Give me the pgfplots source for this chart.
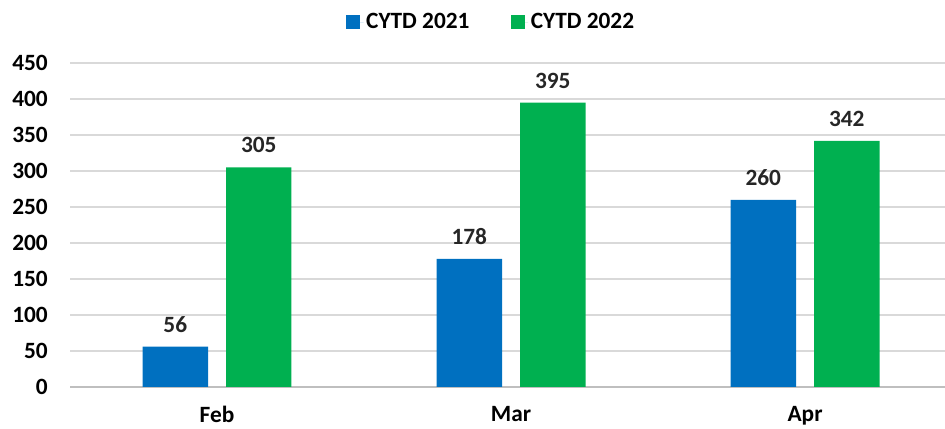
\documentclass[border=0pt]{standalone}
\usepackage{fontspec}
\setmainfont{Carlito}
\usepackage{pgfplots}
\pgfplotsset{compat=1.18}
\definecolor{cblue}{HTML}{0070C0}
\definecolor{cgreen}{HTML}{00B050}
\definecolor{cgrid}{HTML}{D9D9D9}
\definecolor{caxis}{HTML}{BFBFBF}
\begin{document}
\begin{tikzpicture}
\useasboundingbox (0,0) rectangle (708.75pt,321pt);
\begin{axis}[
  at={(52.5pt,30.75pt)}, anchor=south west,
  scale only axis, width=656.25pt, height=243pt,
  ybar=13.5pt, bar width=49.1pt,
  xmin=-0.5, xmax=2.476, ymin=0, ymax=450,
  xtick=data, xticklabels={Feb,Mar,Apr},
  ytick={0,50,...,450},
  axis x line=bottom, axis y line=left,
  x axis line style={draw=caxis, line width=1.2pt, -},
  y axis line style={draw=none},
  major tick length=0pt,
  ymajorgrids, grid style={draw=cgrid, line width=0.9pt},
  /pgf/number format/assume math mode=true,
  tick label style={font=\fontsize{17.5}{20}\selectfont\bfseries, inner sep=0pt, text=black},
  yticklabel style={anchor=east},
  yticklabel shift=16.5pt,
  xticklabel shift=14pt,
  nodes near coords,
  nodes near coords style={font=\fontsize{17.5}{20}\selectfont\bfseries, inner sep=0pt, anchor=south, yshift=10.5pt, text=black!85},
  legend columns=2,
  legend style={at={(0.4817,1.1265)}, anchor=center, draw=none, fill=none,
    font=\fontsize{17.5}{20}\selectfont\bfseries,
    /tikz/every even column/.append style={column sep=29pt},
    inner sep=0pt},
  legend image code/.code={\fill[#1] (0pt,-5.25pt) rectangle (10.5pt,5.25pt); \path (0pt,0pt) -- (13pt,0pt);},
]
\addplot[fill=cblue, draw=none] coordinates {(0,56) (1,178) (2,260)};
\addplot[fill=cgreen, draw=none] coordinates {(0,305) (1,395) (2,342)};
\legend{CYTD 2021, CYTD 2022}
\end{axis}
\end{tikzpicture}
\end{document}
